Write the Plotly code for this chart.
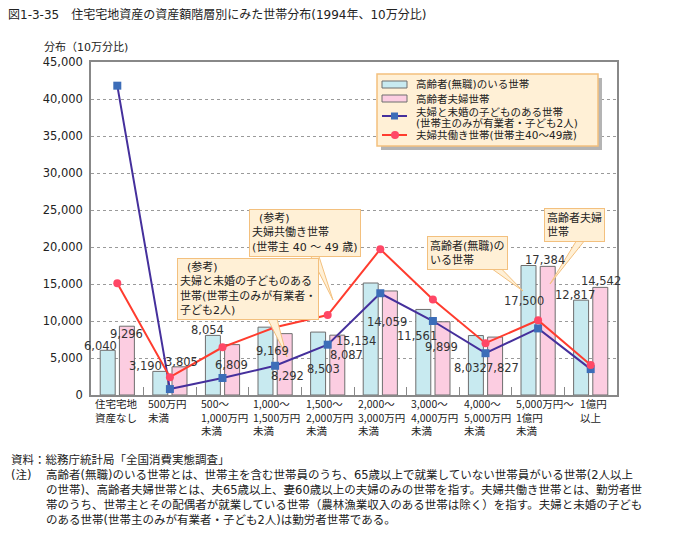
import plotly.graph_objects as go

# ---------------- data ----------------
categories = ["住宅宅地資産なし", "500万円未満", "500～1,000万円未満", "1,000～1,500万円未満",
              "1,500～2,000万円未満", "2,000～3,000万円未満", "3,000～4,000万円未満",
              "4,000～5,000万円未満", "5,000万円～1億円未満", "1億円以上"]
category_labels = [["住宅宅地", "資産なし"], ["500万円", "未満"], ["500～", "1,000万円", "未満"],
                   ["1,000～", "1,500万円", "未満"], ["1,500～", "2,000万円", "未満"],
                   ["2,000～", "3,000万円", "未満"], ["3,000～", "4,000万円", "未満"],
                   ["4,000～", "5,000万円", "未満"], ["5,000万円～", "1億円", "未満"],
                   ["1億円", "以上"]]
elderly_jobless = [6040, 3190, 8054, 9169, 8503, 15134, 11561, 8032, 17500, 12817]
elderly_couple = [9296, 3805, 6809, 8292, 8087, 14059, 9899, 7827, 17384, 14542]
couple_with_children = [41800, 800, 2300, 3950, 6800, 13750, 10000, 5650, 9000, 3500]
dual_income = [15100, 2400, 6450, 9150, 10800, 19700, 12900, 7000, 10100, 4050]

series_names = ["高齢者(無職)のいる世帯", "高齢者夫婦世帯",
                "夫婦と未婚の子どものある世帯<br>(世帯主のみが有業者・子ども2人)",
                "夫婦共働き世帯(世帯主40～49歳)"]

# ---------------- layout constants ----------------
W, H = 682, 544
OFF = 8                      # page offset of the figure inside the browser body
ML_PAGE, MT_PAGE = 91, 62    # plot area top-left in page pixels
PW, PH = 526, 333
ML, MT = ML_PAGE - OFF, MT_PAGE - OFF
MR, MB = W - ML - PW, H - MT - PH
FONT = "DejaVu Sans, Noto Sans CJK JP, sans-serif"
JFONT = "Noto Sans CJK JP, DejaVu Sans, sans-serif"
TXT = "#222222"
BOX_BG = "#FFF0D6"
BOX_LINE = "#F3C07E"
CYAN, PINK = "#C8EAF0", "#FCCDE1"
BLUE_LINE, BLUE_MK = "#45309C", "#3C6DB8"
RED_LINE, RED_MK = "#FF3C2E", "#FF4766"
BAR_EDGE = "#6E6E6E"

# label pixel offsets (x from group centre, y downward from bar top)
cyan_label_shift = [(-17, -4), (-24, -5), (-15, -5), (-3, 24), (-4, 37),
                    (-24, 58), (-16, 27), (-15, 32), (-14, 35), (-16, -5)]
pink_label_shift = [(9, 8), (12, -5), (9, 20), (12, 42), (19, 20),
                    (7, 31), (9, 25), (17, 31), (7, -6), (10, -6)]
category_label_xshift = [-23] * 9 + [-12]


def px(x):
    return (x - ML_PAGE) / PW


def py(y):
    return (MT_PAGE + PH - y) / PH


fig = go.Figure()
fig.add_trace(go.Bar(x=categories, y=elderly_jobless, name=series_names[0],
                     marker=dict(color=CYAN, line=dict(color=BAR_EDGE, width=1))))
fig.add_trace(go.Bar(x=categories, y=elderly_couple, name=series_names[1],
                     marker=dict(color=PINK, line=dict(color=BAR_EDGE, width=1))))
fig.add_trace(go.Scatter(x=categories, y=couple_with_children, name=series_names[2],
                         mode="lines+markers",
                         line=dict(color=BLUE_LINE, width=2),
                         marker=dict(symbol="square", size=8, color=BLUE_MK)))
fig.add_trace(go.Scatter(x=categories, y=dual_income, name=series_names[3],
                         mode="lines+markers",
                         line=dict(color=RED_LINE, width=2),
                         marker=dict(symbol="circle", size=8, color=RED_MK)))

annotations = []
# bar value labels
for i, c in enumerate(categories):
    for vals, shifts in ((elderly_jobless, cyan_label_shift), (elderly_couple, pink_label_shift)):
        dx, dy = shifts[i]
        annotations.append(dict(x=c, y=vals[i], xref="x", yref="y", text=f"{vals[i]:,}",
                                showarrow=False, xshift=dx, yshift=-dy,
                                xanchor="center", yanchor="middle",
                                font=dict(size=11.5, color="#333333", family=FONT)))
# category labels (left aligned under each group)
for c, lines, xs in zip(categories, category_labels, category_label_xshift):
    annotations.append(dict(x=c, y=0, xref="x", yref="paper", text="<br>".join(lines),
                            showarrow=False, xanchor="left", yanchor="top", align="left",
                            xshift=xs, yshift=0, borderpad=0,
                            font=dict(size=10.5, color=TXT, family=JFONT)))

# axis title
annotations.append(dict(x=px(42), y=py(47), xref="paper", yref="paper",
                        text="分布（10万分比)", showarrow=False, xanchor="left", yanchor="middle",
                        font=dict(size=11, color=TXT, family=FONT)))

# callout boxes
callouts = [
    ("\u00a0\u00a0(参考)<br>夫婦共働き世帯<br>(世帯主 40 ～ 49 歳)", 249, 209),
    ("\u00a0\u00a0(参考)<br>夫婦と未婚の子どものある<br>世帯(世帯主のみが有業者・<br>子ども2人)", 177, 258),
    ("高齢者(無職)の<br>いる世帯", 427, 236),
    ("高齢者夫婦<br>世帯", 544, 208),
]
for text, x0, y0 in callouts:
    annotations.append(dict(x=px(x0), y=py(y0), xref="paper", yref="paper", text=text,
                            showarrow=False, xanchor="left", yanchor="top", align="left",
                            bgcolor=BOX_BG, bordercolor=BOX_LINE, borderwidth=1, borderpad=2,
                            font=dict(size=11, color=TXT, family=FONT)))

# legend texts (hand-built legend)
legend_texts = [(series_names[0], 84), (series_names[1], 98.5),
                ("夫婦と未婚の子どものある世帯", 111.5), ("(世帯主のみが有業者・子ども2人)", 123),
                (series_names[3], 135)]
for text, y0 in legend_texts:
    annotations.append(dict(x=px(415), y=py(y0), xref="paper", yref="paper", text=text,
                            showarrow=False, xanchor="left", yanchor="middle", align="left",
                            borderpad=0,
                            font=dict(size=10.5, color=TXT, family=FONT)))

# source and notes
notes = [
    ("資料：総務庁統計局「全国消費実態調査」", 10, 460),
    ("(注)", 10, 475),
    ("高齢者(無職)のいる世帯とは、世帯主を含む世帯員のうち、65歳以上で就業していない世帯員がいる世帯(2人以上", 45, 475),
    ("の世帯)、高齢者夫婦世帯とは、夫65歳以上、妻60歳以上の夫婦のみの世帯を指す。夫婦共働き世帯とは、勤労者世", 45, 490),
    ("帯のうち、世帯主とその配偶者が就業している世帯（農林漁業収入のある世帯は除く）を指す。夫婦と未婚の子ども", 45, 505),
    ("のある世帯(世帯主のみが有業者・子ども2人)は勤労者世帯である。", 45, 520),
]
for text, x0, y0 in notes:
    annotations.append(dict(x=px(x0), y=py(y0), xref="paper", yref="paper", text=text,
                            showarrow=False, xanchor="left", yanchor="middle", align="left",
                            borderpad=0,
                            font=dict(size=11.5, color=TXT, family=FONT)))

shapes = []
# callout wedges
wedges = [((303, 241), (314, 241), (333, 300)),
          ((258, 300), (272, 300), (287, 357)),
          ((474, 256), (489, 256), (523, 291)),
          ((583, 230), (593, 230), (550, 284))]
for a, b, t in wedges:
    path = "M {} {} L {} {} L {} {} Z".format(px(a[0]), py(a[1]), px(b[0]), py(b[1]), px(t[0]), py(t[1]))
    shapes.append(dict(type="path", path=path, xref="paper", yref="paper",
                       fillcolor=BOX_BG, line=dict(color=BOX_LINE, width=1), layer="above"))


def rect(x0, y0, x1, y1, fill, line_color=None, lw=0):
    return dict(type="rect", xref="paper", yref="paper",
                x0=px(x0), x1=px(x1), y0=py(y1), y1=py(y0), fillcolor=fill,
                line=dict(color=line_color or fill, width=lw), layer="above")


# legend box, shadow and symbols
shapes.append(rect(381, 78, 602, 150, "#B4B4B4"))
shapes.append(rect(377, 74, 598, 146, BOX_BG, BOX_LINE, 1.5))
shapes.append(rect(382, 81, 407, 88, CYAN, BAR_EDGE, 1))
shapes.append(rect(382, 95, 407, 102, PINK, BAR_EDGE, 1))
shapes.append(dict(type="line", xref="paper", yref="paper", x0=px(382), x1=px(407),
                   y0=py(116), y1=py(116), line=dict(color=BLUE_LINE, width=2), layer="above"))
shapes.append(rect(391, 112.5, 398, 119.5, BLUE_MK))
shapes.append(dict(type="line", xref="paper", yref="paper", x0=px(382), x1=px(407),
                   y0=py(135), y1=py(135), line=dict(color=RED_LINE, width=2), layer="above"))
shapes.append(dict(type="circle", xref="paper", yref="paper", x0=px(391), x1=px(399),
                   y0=py(139), y1=py(131), fillcolor=RED_MK, line=dict(color=RED_MK, width=0),
                   layer="above"))

fig.update_layout(
    width=W, height=H,
    margin=dict(l=ML, r=MR, t=MT, b=MB),
    paper_bgcolor="white", plot_bgcolor="white",
    font=dict(family=FONT, color=TXT, size=11),
    title=dict(text="図1-3-35　住宅宅地資産の資産額階層別にみた世帯分布(1994年、10万分比)",
               x=0, xanchor="left", y=1 - (15 - OFF) / H, yanchor="middle",
               font=dict(size=12, color=TXT, family=FONT)),
    barmode="group", bargap=0.27, bargroupgap=0.22,
    showlegend=False,
    xaxis=dict(type="category", showticklabels=False, ticks="inside", tickson="boundaries",
               ticklen=8, tickcolor="#888888", showline=True, linecolor="#888888",
               linewidth=1.5, mirror=True, showgrid=False, range=[-0.5, 9.5]),
    yaxis=dict(range=[0, 45000], dtick=5000, tickformat=",", showline=True,
               linecolor="#888888", linewidth=1.5, mirror=True,
               showgrid=True, gridcolor="#9A9A9A", griddash="dot", gridwidth=1,
               zeroline=False, ticks="", tickfont=dict(size=11.5, color=TXT),
               ticklabelstandoff=4),
    annotations=annotations,
    shapes=shapes,
)

fig.write_html("out.html")
